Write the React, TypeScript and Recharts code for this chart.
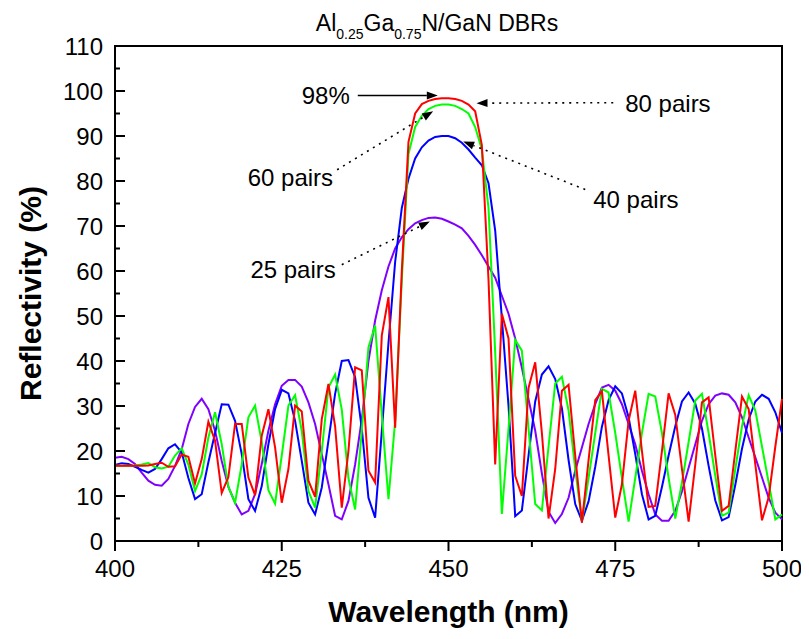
import React from 'react';
import { LineChart, Line, XAxis, YAxis, ReferenceArea, ReferenceLine, Label } from 'recharts';

const FONT = "'Liberation Sans', Arial, Helvetica, sans-serif";

// wavelength grid, 1 nm steps
const wavelengths = Array.from({ length: 101 }, (_, i) => 400 + i);

// reflectivity (%), 400..500 nm
const pairs25 = [
  18.5, 18.7, 18.2, 17.1, 15.2, 13.4, 12.5, 12.3, 13.8, 16.7,
  20.4, 26.0, 29.8, 31.6, 29.3, 24.5, 17.8, 12.0, 8.5, 5.9,
  6.7, 10.4, 17.1, 24.5, 30.4, 34.5, 35.8, 35.8, 34.3, 30.8,
  26.0, 19.3, 12.6, 5.6, 4.8, 8.9, 17.0, 27.0, 40.0, 49.0,
  55.7, 61.0, 65.0, 67.5, 69.3, 70.6, 71.3, 71.8, 71.9, 71.6,
  71.0, 70.3, 69.5, 67.8, 65.8, 63.5, 61.0, 58.5, 54.5, 50.5,
  45.0, 38.5, 31.5, 24.5, 15.0, 6.5, 4.0, 6.0, 9.6, 15.6,
  20.8, 26.0, 30.4, 34.1, 34.7, 33.4, 30.4, 26.0, 21.5, 15.6,
  10.4, 5.9, 4.5, 4.5, 6.7, 11.0, 16.3, 21.5, 26.7, 30.4,
  32.3, 32.8, 32.5, 30.8, 27.5, 23.0, 18.6, 14.1, 9.6, 6.3,
  4.8,
];

const pairs40 = [
  16.9, 17.3, 17.1, 16.5, 15.8, 15.2, 16.0, 18.2, 20.6, 21.5,
  19.7, 14.0, 9.3, 10.4, 17.5, 24.0, 30.4, 30.3, 26.7, 19.3,
  9.3, 6.7, 12.2, 21.5, 29.3, 33.6, 32.8, 26.7, 17.8, 8.5,
  5.9, 11.9, 22.3, 32.7, 40.0, 40.2, 36.4, 25.0, 9.6, 5.2,
  24.4, 44.0, 62.0, 74.0, 80.5, 85.0, 87.5, 89.0, 89.8, 90.0,
  90.0, 89.5, 88.5, 87.0, 85.2, 83.5, 79.5, 69.0, 49.5, 30.0,
  5.5, 6.8, 19.0, 31.0, 37.0, 38.8, 36.0, 29.5, 18.0, 8.2,
  4.5, 8.8, 16.5, 25.4, 31.3, 34.4, 32.8, 27.5, 19.3, 10.4,
  4.8, 5.6, 12.0, 19.0, 25.5, 31.0, 33.0, 30.5, 25.0, 16.7,
  9.0, 4.6, 5.3, 12.5, 20.5, 27.0, 31.0, 32.5, 31.6, 28.6,
  24.0,
];

const pairs60 = [
  16.7, 16.7, 16.7, 16.8, 17.0, 17.3, 16.4, 16.1, 16.5, 19.0,
  20.6, 17.0, 11.1, 14.8, 23.0, 28.6, 21.5, 12.0, 8.5, 17.0,
  27.5, 30.1, 22.0, 11.3, 8.3, 19.0, 30.1, 32.4, 24.5, 11.1,
  7.4, 20.0, 34.1, 37.0, 29.2, 14.0, 7.0, 24.5, 43.0, 47.9,
  28.0, 9.3, 26.7, 58.0, 86.0, 92.0, 94.5, 96.0, 96.7, 97.0,
  97.0, 96.7, 96.0, 95.0, 92.0, 87.0, 74.0, 42.0, 6.0, 25.0,
  44.7, 42.3, 25.0, 8.2, 6.8, 21.0, 35.0, 36.5, 29.0, 16.0,
  4.3, 14.0, 24.0, 33.8, 33.0, 24.0, 14.0, 4.3, 14.0, 24.0,
  32.7, 32.1, 24.0, 14.0, 5.0, 13.0, 22.0, 31.2, 32.7, 24.0,
  14.5, 5.6, 6.3, 16.0, 25.5, 32.4, 29.0, 21.0, 13.0, 4.8,
  5.9,
];

const pairs80 = [
  16.7, 16.7, 16.7, 16.7, 16.7, 16.8, 17.1, 17.4, 16.5, 16.6,
  19.2, 18.7, 12.8, 18.2, 26.5, 22.3, 10.7, 14.2, 26.0, 26.0,
  14.1, 10.2, 23.4, 29.3, 20.8, 8.5, 16.0, 30.1, 28.8, 13.4,
  9.8, 27.1, 34.9, 25.5, 7.4, 20.0, 38.6, 37.9, 15.6, 13.0,
  45.7, 54.2, 25.2, 60.0, 88.7, 95.0, 97.1, 97.8, 98.2, 98.4,
  98.4, 98.2, 97.8, 97.0, 95.5, 88.0, 58.0, 17.0, 50.5, 45.0,
  14.5, 10.0, 34.0, 39.7, 24.0, 5.0, 16.0, 33.4, 34.7, 19.0,
  4.1, 18.0, 31.3, 33.3, 19.0, 5.2, 12.6, 26.7, 33.4, 20.0,
  7.6, 7.8, 20.0, 32.8, 28.0, 16.0, 4.3, 17.0, 30.8, 31.9,
  19.0, 6.7, 7.8, 20.0, 32.1, 29.3, 17.0, 4.6, 9.7, 21.0,
  31.6,
];

const xTicks = [400, 412.5, 425, 437.5, 450, 462.5, 475, 487.5, 500];
const yTicks = [0, 5, 10, 15, 20, 25, 30, 35, 40, 45, 50, 55, 60, 65, 70, 75, 80, 85, 90, 95, 100, 105, 110];

const data = wavelengths.map((wl, i) => ({
  wl,
  p25: pairs25[i],
  p40: pairs40[i],
  p60: pairs60[i],
  p80: pairs80[i],
}));

// arrow annotations: tail -> head in data units
const notes = [
  { text: '98%', tail: { x: 436.4, y: 99.0 }, head: { x: 448.4, y: 99.0 }, dotted: false, anchor: 'end', dx: -8, dy: 8 },
  { text: '80 pairs', tail: { x: 474.7, y: 97.4 }, head: { x: 454.2, y: 97.3 }, dotted: true, anchor: 'start', dx: 12, dy: 9 },
  { text: '60 pairs', tail: { x: 433.3, y: 82.5 }, head: { x: 447.7, y: 95.5 }, dotted: true, anchor: 'end', dx: -4, dy: 16 },
  { text: '40 pairs', tail: { x: 470.5, y: 78.1 }, head: { x: 452.2, y: 88.8 }, dotted: true, anchor: 'start', dx: 8, dy: 18 },
  { text: '25 pairs', tail: { x: 434.0, y: 61.4 }, head: { x: 447.2, y: 71.0 }, dotted: true, anchor: 'end', dx: -6, dy: 13 },
];

const XTick = (props: any) => {
  const { x, y, payload } = props;
  const v = payload.value;
  const major = v % 25 === 0;
  return (
    <g>
      <line x1={x} y1={y} x2={x} y2={y + (major ? 10 : 6)} stroke="#000" strokeWidth={2} />
      {major && (
        <text x={x} y={y + 36} textAnchor="middle" fontSize={24} fill="#000" fontFamily={FONT}>
          {v}
        </text>
      )}
    </g>
  );
};

const YTick = (props: any) => {
  const { x, y, payload } = props;
  const v = payload.value;
  const major = v % 10 === 0;
  return (
    <g>
      <line x1={x} y1={y} x2={x + (major ? 10 : 5)} y2={y} stroke="#000" strokeWidth={2} />
      {major && (
        <text x={x - 12} y={y + 8.5} textAnchor="end" fontSize={24} fill="#000" fontFamily={FONT}>
          {v}
        </text>
      )}
    </g>
  );
};

const arrowShape = (note: any) => (props: any) => {
  const { x1, y1, x2, y2 } = props;
  const len = Math.hypot(x2 - x1, y2 - y1) || 1;
  const ux = (x2 - x1) / len;
  const uy = (y2 - y1) / len;
  const L = 11;
  const W = 4;
  const bx = x2 - ux * L;
  const by = y2 - uy * L;
  const pts = `${x2},${y2} ${bx - uy * W},${by + ux * W} ${bx + uy * W},${by - ux * W}`;
  return (
    <g>
      <line
        x1={x1}
        y1={y1}
        x2={bx}
        y2={by}
        stroke="#000"
        strokeWidth={note.dotted ? 1.6 : 1.4}
        strokeDasharray={note.dotted ? '2 5' : undefined}
      />
      <polygon points={pts} fill="#000" />
      <text x={x1 + note.dx} y={y1 + note.dy} textAnchor={note.anchor} fontSize={24} fill="#000" fontFamily={FONT}>
        {note.text}
      </text>
    </g>
  );
};

export default function App() {
  return (
    <div style={{ position: 'relative', width: 801, height: 631, fontFamily: FONT }}>
      <div
        style={{
          position: 'absolute',
          left: 429,
          top: 2,
          transform: 'translateX(-50%)',
          whiteSpace: 'nowrap',
          fontSize: 23,
          lineHeight: '27px',
          color: '#000',
        }}
      >
        Al<sub style={{ fontSize: 14, verticalAlign: '-8px' }}>0.25</sub>Ga
        <sub style={{ fontSize: 14, verticalAlign: '-8px' }}>0.75</sub>N/GaN DBRs
      </div>
      <LineChart width={801} height={631} data={data} margin={{ top: 38, right: 27, bottom: 0, left: 0 }}>
        <XAxis
          type="number"
          dataKey="wl"
          domain={[400, 500]}
          ticks={xTicks}
          interval={0}
          height={98}
          tickSize={0}
          tickMargin={0}
          tickLine={false}
          tick={(p: any) => <XTick {...p} />}
          axisLine={{ stroke: '#000', strokeWidth: 2 }}
        >
          <Label
            value="Wavelength (nm)"
            position="insideBottom"
            offset={17}
            style={{ fontSize: 30, fontWeight: 'bold', fill: '#000', fontFamily: FONT }}
          />
        </XAxis>
        <YAxis
          type="number"
          domain={[0, 110]}
          ticks={yTicks}
          interval={0}
          width={107}
          tickSize={0}
          tickMargin={0}
          tickLine={false}
          tick={(p: any) => <YTick {...p} />}
          axisLine={{ stroke: '#000', strokeWidth: 2 }}
        >
          <Label
            value="Reflectivity (%)"
            angle={-90}
            position="insideLeft"
            offset={22}
            style={{ fontSize: 30, fontWeight: 'bold', fill: '#000', textAnchor: 'middle', fontFamily: FONT }}
          />
        </YAxis>
        <ReferenceArea x1={400} x2={500} y1={0} y2={110} fill="none" stroke="#000" strokeWidth={2} />
        <Line type="linear" dataKey="p25" stroke="#8000FF" strokeWidth={2} dot={false} isAnimationActive={false} />
        <Line type="linear" dataKey="p40" stroke="#0000FF" strokeWidth={2} dot={false} isAnimationActive={false} />
        <Line type="linear" dataKey="p60" stroke="#00FF00" strokeWidth={2} dot={false} isAnimationActive={false} />
        <Line type="linear" dataKey="p80" stroke="#FF0000" strokeWidth={2} dot={false} isAnimationActive={false} />
        {notes.map((n) => (
          <ReferenceLine key={n.text} segment={[n.tail, n.head]} shape={arrowShape(n)} ifOverflow="visible" />
        ))}
      </LineChart>
    </div>
  );
}
